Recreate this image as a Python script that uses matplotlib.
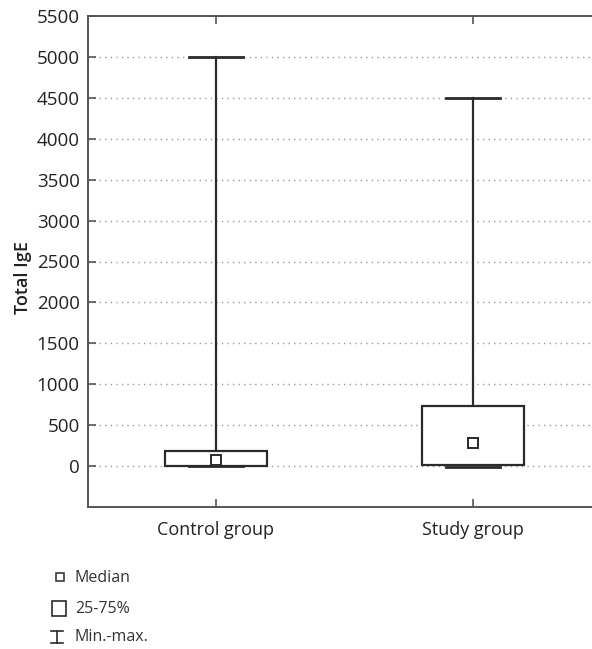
import matplotlib.pyplot as plt
from matplotlib.lines import Line2D
from matplotlib.patches import Rectangle

# -- data -- #
groups = ['Control group', 'Study group']
mins = [0, -10]
q1 = [0, 10]
medians = [70, 280]
q3 = [180, 730]
maxs = [5000, 4500]
yticks = list(range(0, 5501, 500))

plt.rcParams['font.family'] = ['Open Sans', 'DejaVu Sans']
ink = '#2b2b2b'
spine = '#555555'
txt = '#222222'

fig = plt.figure(figsize=(5.92, 6.49), dpi=100)
ax = fig.add_axes([88/592, 1-507/649, 1-88/592, (507-16)/649])

pos = [1, 2]
box_w = 0.4
cap_w = 0.21
for x, lo, a, m, b, hi in zip(pos, mins, q1, medians, q3, maxs):
    ax.plot([x, x], [b, hi], color=ink, lw=1.6, zorder=3)
    ax.plot([x - cap_w/2, x + cap_w/2], [hi, hi], color=ink, lw=2, zorder=3)
    ax.plot([x - cap_w/2, x + cap_w/2], [lo, lo], color=ink, lw=2, zorder=3)
    ax.add_patch(Rectangle((x - box_w/2, a), box_w, b - a, facecolor='white',
                           edgecolor=ink, lw=1.6, zorder=4))
    ax.plot(x, m, marker='s', ms=6.5, mfc='white', mec=ink, mew=1.4, zorder=5)

ax.set_xlim(0.502, 2.463)
ax.set_ylim(-500, 5500)
ax.set_xticks(pos)
ax.set_xticklabels(groups, fontsize=13, color=txt)
ax.set_yticks(yticks)
ax.set_yticklabels([str(t) for t in yticks], fontsize=13.5, color=txt)
ax.tick_params(direction='in', color=spine, length=6, width=1.2, top=True, pad=6)
ax.tick_params(axis='x', pad=10)
for t in yticks[:-1]:
    ax.axhline(t, color='#999999', lw=1, ls=(0, (1, 3)), zorder=1)

ax.spines['right'].set_visible(False)
for s in ['left', 'bottom', 'top']:
    ax.spines[s].set_color(spine)
    ax.spines[s].set_linewidth(1.4)

ax.set_ylabel('Total IgE', fontsize=13, color=txt, fontweight='semibold')
ax.yaxis.set_label_coords(-0.111, 0.468)

# -- legend below the chart -- #
for label, yy in zip(['Median', '25-75%', 'Min.-max.'], [578, 609, 637]):
    fig.text(75/592, 1-yy/649, label, fontsize=11.5, va='center', color='#333333')
fig.add_artist(Line2D([60/592], [1-577/649], marker='s', ms=6, mfc='white', mec=ink, mew=1.1))
fig.add_artist(Rectangle((51.5/592, 1-616/649), 14/592, 15/649, facecolor='white', edgecolor=ink, lw=1.2))
fig.add_artist(Line2D([56.5/592, 56.5/592], [1-643/649, 1-630.5/649], color=ink, lw=1.2))
fig.add_artist(Line2D([51/592, 62.5/592], [1-630.5/649, 1-630.5/649], color=ink, lw=1.2))
fig.add_artist(Line2D([51/592, 62.5/592], [1-643/649, 1-643/649], color=ink, lw=1.2))

fig.savefig('out.png', dpi=100)
